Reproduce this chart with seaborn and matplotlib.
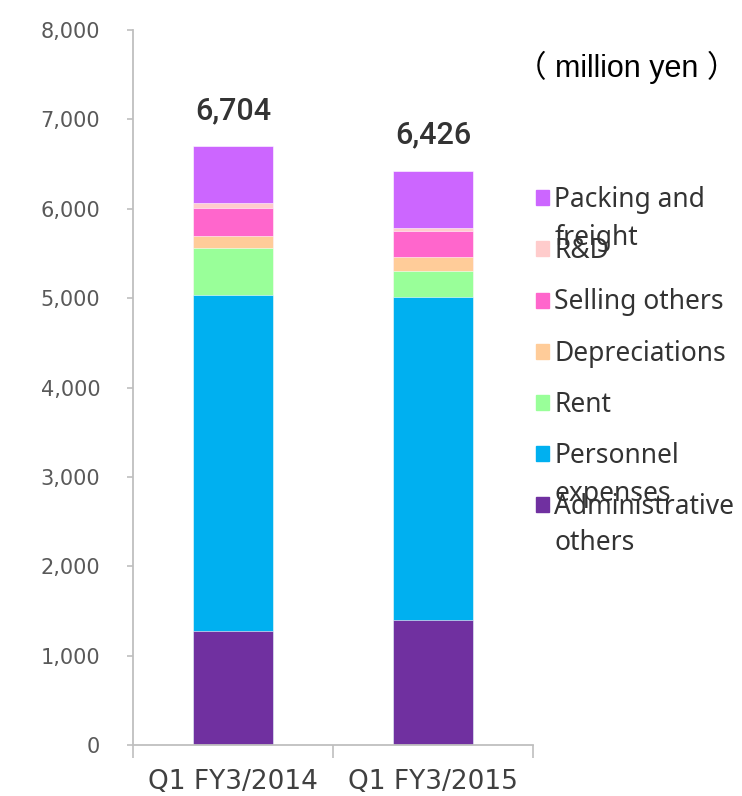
import matplotlib
matplotlib.use("Agg")
import matplotlib.pyplot as plt
import matplotlib.patches as mpatches
import seaborn as sns
import pandas as pd
import numpy as np

# ---- data ----
categories = ["Q1 FY3/2014", "Q1 FY3/2015"]
series_names = ["Administrative others", "Personnel expenses", "Rent",
                "Depreciations", "Selling others", "R&D", "Packing and freight"]
admin_others = [1280, 1400]
personnel = [3755, 3616]
rent = [529, 287]
depreciations = [134, 160]
selling_others = [307, 291]
rnd = [56, 34]
packing_freight = [643, 638]
totals = [6704, 6426]
colors = ["#7030A0", "#00B0F0", "#99FF99", "#FFCC99", "#FF66CC", "#FFCCCC", "#CC66FF"]
legend_first = ["Packing and", "R&D", "Selling others", "Depreciations", "Rent",
                "Personnel", "Administrative"]
legend_second = {"Packing and": "freight", "Personnel": "expenses", "Administrative": "others"}
unit_label = "（ million yen ）"

values = [admin_others, personnel, rent, depreciations, selling_others, rnd, packing_freight]

sns.set_theme(style="white")
plt.rcParams["font.family"] = ["DejaVu Sans"]

W, H = 742, 796
fig = plt.figure(figsize=(W / 100, H / 100), dpi=100)
ax = fig.add_axes([133 / W, 1 - 745 / H, 400 / W, 715 / H])

# cumulative stacks drawn tallest first
cum = np.cumsum(np.array(values), axis=0)
for k in range(len(values) - 1, -1, -1):
    df = pd.DataFrame({"cat": categories, "val": cum[k]})
    sns.barplot(data=df, x="cat", y="val", color=colors[k], width=0.4,
                saturation=1, edgecolor="white", linewidth=0.4, ax=ax)

ax.set_xlim(-0.5, 1.5)
ax.set_ylim(0, 8000)
ax.set_xlabel("")
ax.set_ylabel("")

axis_col = "#BFBFBF"
for s in ["top", "right"]:
    ax.spines[s].set_visible(False)
for s in ["left", "bottom"]:
    ax.spines[s].set_color(axis_col)
    ax.spines[s].set_linewidth(1.3)

ax.set_yticks(np.arange(0, 8001, 1000))
ax.set_yticklabels([f"{v:,}" for v in range(0, 8001, 1000)])
ax.tick_params(axis="y", which="major", direction="out", length=4.5, width=1.2,
               color=axis_col, labelsize=15, labelcolor="#595959", pad=19, left=True)
ax.set_xticks([0, 1])
ax.set_xticklabels(categories)
ax.tick_params(axis="x", which="major", length=0, labelsize=19, labelcolor="#404040", pad=17)
ax.set_xticks([-0.5, 0.5, 1.5], minor=True)
ax.tick_params(axis="x", which="minor", direction="out", length=9, width=1.2,
               color=axis_col, bottom=True)

# total labels
for i, t in enumerate(totals):
    ax.annotate(f"{t:,}", xy=(i, t), xytext=(0, 21), textcoords="offset pixels",
                ha="center", va="bottom", fontsize=22, color="#333333", fontweight="medium",
                family=["Roboto", "DejaVu Sans"])

# unit label
fig.text(627 / W, 1 - 67 / H, unit_label, ha="center", va="center", fontsize=22,
         color="black", family=["Liberation Sans", "Noto Sans CJK JP"])

# legend
handles = [mpatches.Patch(color=colors[k]) for k in range(len(values) - 1, -1, -1)]
leg = fig.legend(handles, legend_first, loc="upper left",
                 bbox_to_anchor=(536 / W, 1 - 186 / H), bbox_transform=fig.transFigure,
                 frameon=False, handlelength=0.5, handleheight=0.5,
                 handletextpad=0.2, labelspacing=0.88, borderpad=0, borderaxespad=0,
                 prop={"family": ["Noto Sans", "DejaVu Sans"], "size": 19})
for t in leg.get_texts():
    t.set_color("#333333")

second_pos = {"Packing and": 245, "Personnel": 501, "Administrative": 550}
for first, second in legend_second.items():
    fig.text(555 / W, 1 - second_pos[first] / H, second, ha="left", va="baseline",
             fontsize=19, color="#333333", family=["Noto Sans", "DejaVu Sans"])

fig.savefig("out.png", dpi=100)
